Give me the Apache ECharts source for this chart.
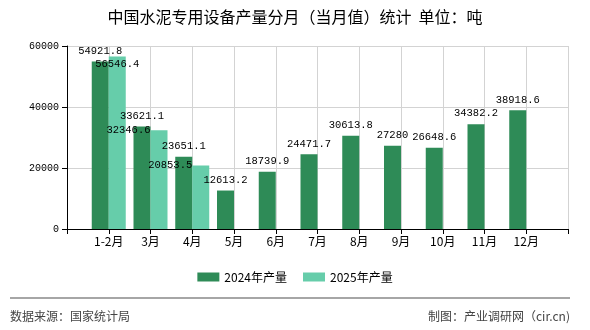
<!DOCTYPE html>
<html>
<head>
<meta charset="utf-8">
<script src="https://cdn.jsdelivr.net/npm/echarts@6/dist/echarts.min.js"></script>
<style>
html,body{margin:0;padding:0;background:#fff;}
#chart{width:590px;height:330px;}
</style>
</head>
<body>
<div id="chart"></div>
<script>
const titleText = '中国水泥专用设备产量分月（当月值）统计  单位：吨';
const categories = ['1-2月', '3月', '4月', '5月', '6月', '7月', '8月', '9月', '10月', '11月', '12月'];
const seriesNames = ['2024年产量', '2025年产量'];
const values2024 = [54921.8, 33621.1, 23651.1, 12613.2, 18739.9, 24471.7, 30613.8, 27280, 26648.6, 34382.2, 38918.6];
const values2025 = [56546.4, 32346.6, 20853.5];
const yTicks = [0, 20000, 40000, 60000];
const sourceText = '数据来源：国家统计局';
const creditText = '制图：产业调研网（cir.cn)';

const COLORS = ['#2e8b57', '#66cdaa'];
const monoFont = "'Liberation Mono', 'DejaVu Sans Mono', monospace";
const cjkFont = "'Noto Sans CJK SC', sans-serif";

// pad axis with an empty slot at each end (ticks at both ends of the axis)
const axisCats = [''].concat(categories, ['']);
const data2024 = [null].concat(values2024);
while (data2024.length < axisCats.length) data2024.push(null);

const data2025 = [null].concat(values2025.map(function (v, i) {
  if (i === 0) {
    return { value: v, label: { position: 'insideTop', distance: 2 } };
  }
  return { value: v, label: { position: [0, 0], align: 'right', verticalAlign: 'middle' } };
}));
while (data2025.length < axisCats.length) data2025.push(null);

const chart = echarts.init(document.getElementById('chart'), null, { renderer: 'canvas' });
chart.setOption({
  backgroundColor: '#fff',
  animation: false,
  title: {
    text: titleText,
    left: 'center',
    top: 4,
    textStyle: { fontFamily: cjkFont, fontSize: 16, fontWeight: 'normal', color: '#000' }
  },
  legend: {
    data: seriesNames,
    top: 266,
    left: 'center',
    itemWidth: 22,
    itemHeight: 9,
    itemGap: 16,
    icon: 'rect',
    textStyle: { fontFamily: cjkFont, fontSize: 12, color: '#000' }
  },
  grid: { left: 67, right: 22, top: 46, bottom: 101, containLabel: false },
  xAxis: {
    type: 'category',
    data: axisCats,
    boundaryGap: false,
    axisLine: { lineStyle: { color: '#000', width: 1 } },
    axisTick: { show: true, length: 5, interval: 0, lineStyle: { color: '#000' } },
    axisLabel: { interval: 0, margin: 6, fontFamily: cjkFont, fontSize: 12, color: '#000' },
    splitLine: { show: true, interval: 0, lineStyle: { color: '#d3d3d3', width: 1 } }
  },
  yAxis: {
    type: 'value',
    min: yTicks[0],
    max: yTicks[yTicks.length - 1],
    interval: yTicks[1] - yTicks[0],
    axisLine: { show: true, lineStyle: { color: '#000', width: 1 } },
    axisTick: { show: true, length: 5, lineStyle: { color: '#000' } },
    axisLabel: {
      margin: 8, fontFamily: monoFont, fontSize: 10, color: '#000',
      formatter: function (v) { return String(v); }
    },
    splitLine: { show: true, lineStyle: { color: '#d3d3d3', width: 1 } }
  },
  series: [
    {
      name: seriesNames[0],
      type: 'bar',
      data: data2024,
      barWidth: 17,
      barGap: '0%',
      itemStyle: { color: COLORS[0] },
      label: {
        show: true,
        position: 'top',
        distance: 5,
        fontFamily: monoFont,
        fontSize: 10.5,
        color: '#000'
      }
    },
    {
      name: seriesNames[1],
      type: 'bar',
      data: data2025,
      barWidth: 17,
      barGap: '0%',
      itemStyle: { color: COLORS[1] },
      label: {
        show: true,
        position: 'top',
        fontFamily: monoFont,
        fontSize: 10.5,
        color: '#000',
        textBorderWidth: 0
      }
    }
  ],
  graphic: [
    {
      type: 'line',
      shape: { x1: 10, y1: 298, x2: 570, y2: 298 },
      style: { stroke: '#888', lineWidth: 1.5 }
    },
    {
      type: 'text',
      left: 10,
      top: 310,
      style: { text: sourceText, fontFamily: cjkFont, fontSize: 12, fill: '#444' }
    },
    {
      type: 'text',
      right: 20,
      top: 310,
      style: { text: creditText, fontFamily: cjkFont, fontSize: 12, fill: '#444' }
    }
  ]
});
</script>
</body>
</html>
